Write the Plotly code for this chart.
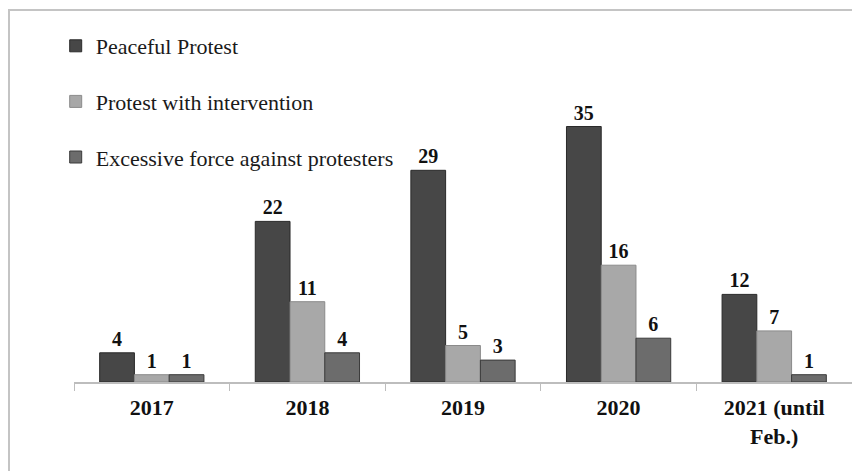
import plotly.graph_objects as go

years = ["2017", "2018", "2019", "2020", "2021 (until<br>Feb.)"]
peaceful = [4, 22, 29, 35, 12]
intervention = [1, 11, 5, 16, 7]
excessive = [1, 4, 3, 6, 1]

series = [
    ("Peaceful Protest", peaceful, "#474747", "#2a2a2a"),
    ("Protest with intervention", intervention, "#a8a8a8", "#8a8a8a"),
    ("Excessive force against protesters", excessive, "#6c6c6c", "#3a3a3a"),
]

L, R, T, B = 66, 16, 82, 97
PW = 860 - L - R
PH = 471 - T - B

fig = go.Figure()
for i, (name, vals, col, lcol) in enumerate(series):
    fig.add_trace(go.Bar(
        x=years, y=vals, name=name, legendgroup=f"g{i}",
        marker=dict(color=col, line=dict(color=lcol, width=1)),
        text=[str(v) for v in vals], textposition="outside",
        textfont=dict(family="Liberation Serif", size=20, color="#111"),
        texttemplate="<b>%{text}</b>", cliponaxis=False,
    ))

fig.update_layout(
    width=860, height=471,
    margin=dict(l=L, r=R, t=T, b=B),
    paper_bgcolor="white", plot_bgcolor="white",
    barmode="group", bargap=0.33, bargroupgap=0,
    font=dict(family="Liberation Serif", color="#111"),
    showlegend=True,
    legend=dict(
        x=(47.7 - L) / PW, y=1 + (T - 17) / PH, xanchor="left", yanchor="top",
        font=dict(family="Liberation Serif", size=22, color="#1a1a1a"),
        tracegroupgap=24, bgcolor="rgba(0,0,0,0)",
    ),
    xaxis=dict(
        showline=True, linecolor="#bdbdbd", linewidth=1.5,
        ticks="outside", tickson="boundaries", ticklen=7, tickcolor="#bdbdbd",
        tickfont=dict(family="Liberation Serif", size=22, color="#111"),
        tickprefix="<b>", ticksuffix="</b>", ticklabelstandoff=5,
        showgrid=False,
    ),
    yaxis=dict(range=[0, 40], visible=False, showgrid=False),
    shapes=[dict(
        type="rect", xref="paper", yref="paper",
        x0=(1 - L) / PW, x1=1.2, y0=-1, y1=1 + (T - 2) / PH,
        line=dict(color="#c4c4c4", width=2), fillcolor="rgba(0,0,0,0)",
        layer="below",
    )],
)

fig.write_html("out.html")
